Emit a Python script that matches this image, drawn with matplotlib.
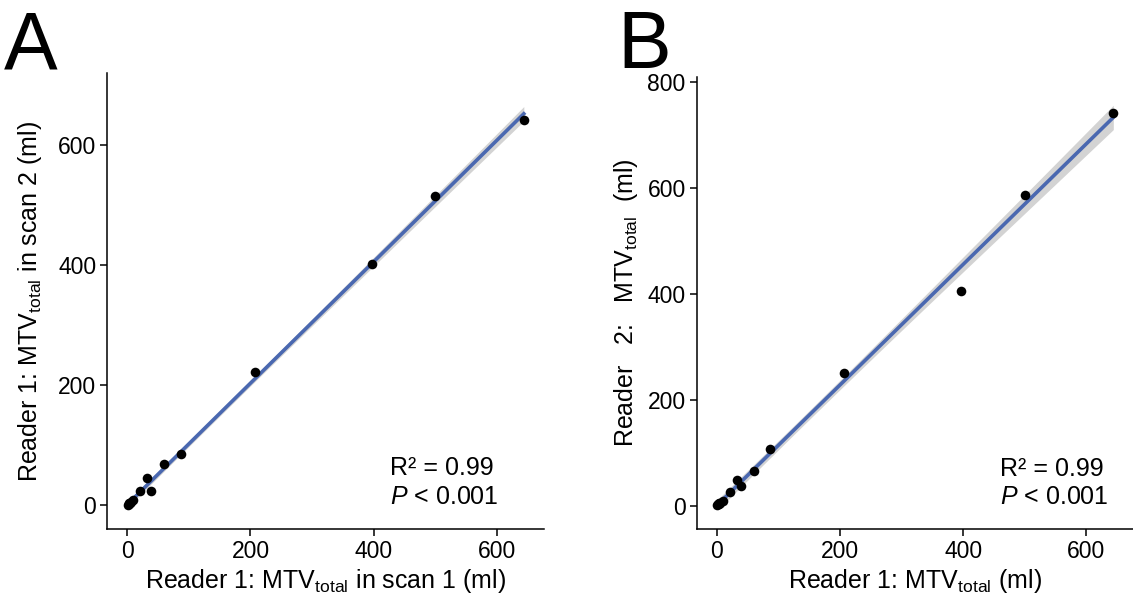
import numpy as np
import matplotlib
matplotlib.use("Agg")
import matplotlib.pyplot as plt

plt.rcParams['font.family'] = ['Liberation Sans', 'DejaVu Sans']
plt.rcParams['mathtext.fontset'] = 'custom'
plt.rcParams['mathtext.rm'] = 'Liberation Sans'
plt.rcParams['mathtext.it'] = 'Liberation Sans:italic'

# reader 1, scan 1 (shared x)
mtv_scan1 = [644, 500, 397, 207, 87, 60, 32, 39, 21, 10, 2, 4, 6, 1, 3]
# reader 1, scan 2
mtv_scan2 = [642, 515, 402, 221, 86, 68, 46, 23, 23, 8, 2, 4, 5, 1, 3]
# reader 2
mtv_reader2 = [742, 587, 406, 250, 107, 65, 48, 37, 27, 9, 3, 5, 6, 1, 4]

x_ticks = [0, 200, 400, 600]
y_ticks_a = [0, 200, 400, 600]
y_ticks_b = [0, 200, 400, 600, 800]

T_975 = 2.160  # t quantile, df = 13

LINE_COLOR = '#4a68b0'
BAND_COLOR = '#c8c8c8'


def draw_panel(ax, x, y, yticks, ylim, xlabel, ylabel, text_x, ypad):
    x = np.asarray(x, float)
    y = np.asarray(y, float)
    slope, icept = np.polyfit(x, y, 1)
    xs = np.linspace(x.min(), x.max(), 200)
    fit = icept + slope * xs
    resid = y - (icept + slope * x)
    n = len(x)
    s = np.sqrt(np.sum(resid ** 2) / (n - 2))
    sxx = np.sum((x - x.mean()) ** 2)
    se = s * np.sqrt(1 / n + (xs - x.mean()) ** 2 / sxx)
    ax.fill_between(xs, fit - T_975 * se, fit + T_975 * se,
                    color=BAND_COLOR, alpha=0.8, lw=0, zorder=1)
    ax.plot(xs, fit, color=LINE_COLOR, lw=2.6, zorder=2)
    ax.scatter(x, y, s=48, color='black', zorder=3, lw=0)

    ax.set_xlim(-32.5, 676)
    ax.set_ylim(*ylim)
    ax.set_xticks(x_ticks)
    ax.set_yticks(yticks)
    for side in ['top', 'right']:
        ax.spines[side].set_visible(False)
    for side in ['left', 'bottom']:
        ax.spines[side].set_linewidth(1.1)
    ax.tick_params(direction='out', length=5, width=1.1, labelsize=16.5, pad=3)
    ax.set_xlabel(xlabel, fontsize=18, labelpad=3)
    ax.set_ylabel(ylabel, fontsize=18, labelpad=ypad)
    ax.text(text_x, 0.118, 'R\u00b2 = 0.99', transform=ax.transAxes,
            ha='left', va='baseline', fontsize=18)
    ax.text(text_x, 0.055, r'$P$ < 0.001', transform=ax.transAxes,
            ha='left', va='baseline', fontsize=18)


fig = plt.figure(figsize=(11.33, 6.02), dpi=100)
ax_a = fig.add_axes([0.0947, 0.121, 0.385, 0.758])
ax_b = fig.add_axes([0.615, 0.121, 0.385, 0.751])

draw_panel(ax_a, mtv_scan1, mtv_scan2, y_ticks_a, (-40, 720),
           r'Reader 1: MTV$_{\mathrm{total}}$ in scan 1 (ml)',
           r'Reader 1: MTV$_{\mathrm{total}}$ in scan 2 (ml)', 0.648, 10)
draw_panel(ax_b, mtv_scan1, mtv_reader2, y_ticks_b, (-44, 809),
           r'Reader 1: MTV$_{\mathrm{total}}$ (ml)',
           r'Reader   2:   MTV$_{\mathrm{total}}$  (ml)', 0.695, 5)

fig.text(0.003, 0.887, 'A', fontsize=58, ha='left', va='baseline')
fig.text(0.545, 0.887, 'B', fontsize=58, ha='left', va='baseline')

fig.savefig('out.png', dpi=100)
